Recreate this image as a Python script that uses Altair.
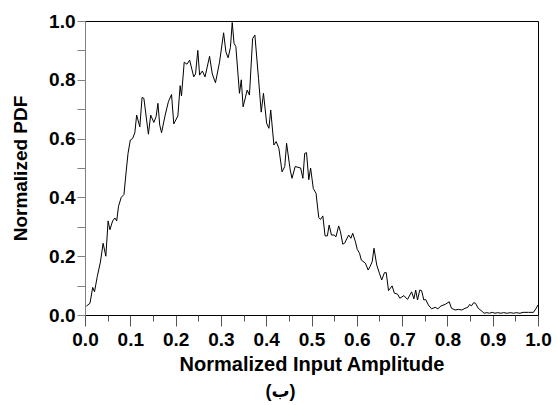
import altair as alt
import pandas as pd

amp = [0.003, 0.011, 0.017, 0.021, 0.027, 0.034, 0.040, 0.046, 0.051, 0.055,
       0.061, 0.066, 0.070, 0.074, 0.080, 0.086, 0.091, 0.095, 0.100, 0.105,
       0.110, 0.114, 0.121, 0.126, 0.130, 0.140, 0.145, 0.152, 0.157, 0.161,
       0.165, 0.169, 0.177, 0.184, 0.191, 0.196, 0.205, 0.210, 0.213, 0.219,
       0.225, 0.231, 0.240, 0.244, 0.249, 0.253, 0.259, 0.265, 0.275, 0.281,
       0.288, 0.297, 0.306, 0.311, 0.316, 0.321, 0.325, 0.329, 0.333, 0.341,
       0.345, 0.349, 0.358, 0.363, 0.370, 0.375, 0.383, 0.389, 0.394, 0.401,
       0.406, 0.410, 0.417, 0.422, 0.428, 0.435, 0.441, 0.445, 0.453, 0.457,
       0.464, 0.476, 0.481, 0.485, 0.489, 0.494, 0.498, 0.504, 0.510, 0.516,
       0.520, 0.525, 0.530, 0.535, 0.539, 0.544, 0.550, 0.554, 0.560, 0.564,
       0.569, 0.573, 0.582, 0.587, 0.591, 0.597, 0.601, 0.606, 0.610, 0.619,
       0.625, 0.629, 0.634, 0.638, 0.644, 0.650, 0.655, 0.661, 0.665, 0.670,
       0.678, 0.683, 0.690, 0.695, 0.704, 0.712, 0.721, 0.726, 0.730, 0.734,
       0.739, 0.743, 0.748, 0.752, 0.758, 0.765, 0.773, 0.779, 0.786, 0.795,
       0.804, 0.809, 0.817, 0.824, 0.832, 0.839, 0.845, 0.849, 0.853, 0.858,
       0.862, 0.868, 0.876, 0.881, 0.887, 0.893, 0.899, 0.905, 0.911, 0.918,
       0.924, 0.932, 0.939, 0.946, 0.952, 0.960, 0.967, 0.979, 0.990, 0.996,
       1.000]

pdf = [0.030, 0.040, 0.094, 0.079, 0.130, 0.180, 0.244, 0.200, 0.320, 0.290,
       0.320, 0.330, 0.320, 0.370, 0.400, 0.410, 0.490, 0.550, 0.595, 0.600,
       0.620, 0.680, 0.640, 0.740, 0.737, 0.615, 0.680, 0.655, 0.675, 0.720,
       0.646, 0.620, 0.680, 0.725, 0.750, 0.650, 0.677, 0.780, 0.745, 0.860,
       0.853, 0.867, 0.810, 0.820, 0.900, 0.816, 0.830, 0.810, 0.880, 0.820,
       0.790, 0.860, 0.960, 0.895, 0.875, 0.910, 0.995, 0.924, 0.913, 0.754,
       0.800, 0.708, 0.765, 0.748, 0.940, 0.952, 0.805, 0.690, 0.754, 0.652,
       0.635, 0.697, 0.578, 0.590, 0.567, 0.487, 0.505, 0.584, 0.493, 0.465,
       0.505, 0.500, 0.465, 0.550, 0.552, 0.460, 0.500, 0.430, 0.414, 0.332,
       0.325, 0.337, 0.269, 0.269, 0.306, 0.272, 0.272, 0.266, 0.303, 0.283,
       0.241, 0.244, 0.272, 0.261, 0.278, 0.249, 0.223, 0.210, 0.187, 0.176,
       0.153, 0.164, 0.181, 0.227, 0.170, 0.142, 0.119, 0.144, 0.144, 0.083,
       0.099, 0.074, 0.071, 0.057, 0.066, 0.053, 0.079, 0.055, 0.085, 0.051,
       0.085, 0.083, 0.051, 0.053, 0.034, 0.021, 0.026, 0.021, 0.031, 0.036,
       0.045, 0.023, 0.017, 0.019, 0.017, 0.023, 0.026, 0.036, 0.031, 0.042,
       0.040, 0.023, 0.013, 0.006, 0.008, 0.006, 0.009, 0.006, 0.008, 0.006,
       0.008, 0.006, 0.008, 0.006, 0.008, 0.006, 0.009, 0.009, 0.009, 0.023,
       0.034]

x_major = [0.0, 0.1, 0.2, 0.3, 0.4, 0.5, 0.6, 0.7, 0.8, 0.9, 1.0]
x_minor = [0.05, 0.15, 0.25, 0.35, 0.45, 0.55, 0.65, 0.75, 0.85, 0.95]
y_ticks = [0.0, 0.1, 0.2, 0.3, 0.4, 0.5, 0.6, 0.7, 0.8, 0.9, 1.0]

x_title = "Normalized Input Amplitude"
y_title = "Normalized PDF"
caption = "(ب)"

df = pd.DataFrame({"amp": amp, "pdf": pdf})

FONT = "Liberation Sans"
xscale = alt.Scale(domain=[0, 1], nice=False, zero=False)
yscale = alt.Scale(domain=[0, 1], nice=False)

line = alt.Chart(df).mark_line(color="black", strokeWidth=1).encode(
    x=alt.X("amp:Q", scale=xscale, axis=alt.Axis(
        values=x_major, format=".1f", tickSize=11, tickColor="#555555",
        domainColor="black", labelFont=FONT, labelFontSize=19,
        labelFontWeight="bold", labelColor="black", labelPadding=4,
        labelFlush=False, labelOverlap=False, grid=False,
        title=x_title, titleFont=FONT, titleFontSize=20,
        titleFontWeight="bold", titleColor="black", titlePadding=5)),
    y=alt.Y("pdf:Q", scale=yscale, axis=alt.Axis(
        values=y_ticks,
        labelExpr="round(datum.value*10) % 2 == 0 ? format(datum.value, '.1f') : ''",
        tickSize=8, tickColor="#808080", domainColor="#808080",
        labelFont=FONT, labelFontSize=19, labelFontWeight="bold",
        labelColor="black", labelPadding=2, labelOverlap=False,
        labelFlush=False, grid=False,
        title=y_title, titleFont=FONT, titleFontSize=19,
        titleFontWeight="bold", titleColor="black", titlePadding=18)),
)

minor = alt.Chart(df).mark_line(strokeOpacity=0).encode(
    x=alt.X("amp:Q", scale=xscale, axis=alt.Axis(
        values=x_minor, labels=False, title="", tickSize=6,
        tickColor="#555555", domain=False, grid=False, orient="bottom")),
    y=alt.Y("pdf:Q", scale=yscale, axis=None),
)

chart = alt.layer(line, minor).resolve_axis(
    x="independent", y="independent"
).properties(
    width=453,
    height=294,
    background="white",
    padding={"left": 85, "top": 21, "right": 20, "bottom": 90},
    autosize=alt.AutoSizeParams(type="none"),
    title=alt.TitleParams(caption, orient="bottom", anchor="middle",
                          font="Liberation Sans, DejaVu Sans", fontSize=18,
                          fontWeight="bold", color="black", dx=-31, offset=9),
).configure_view(stroke="black", strokeWidth=1)

chart.save("out.html", embed_options={"renderer": "svg", "actions": False})
